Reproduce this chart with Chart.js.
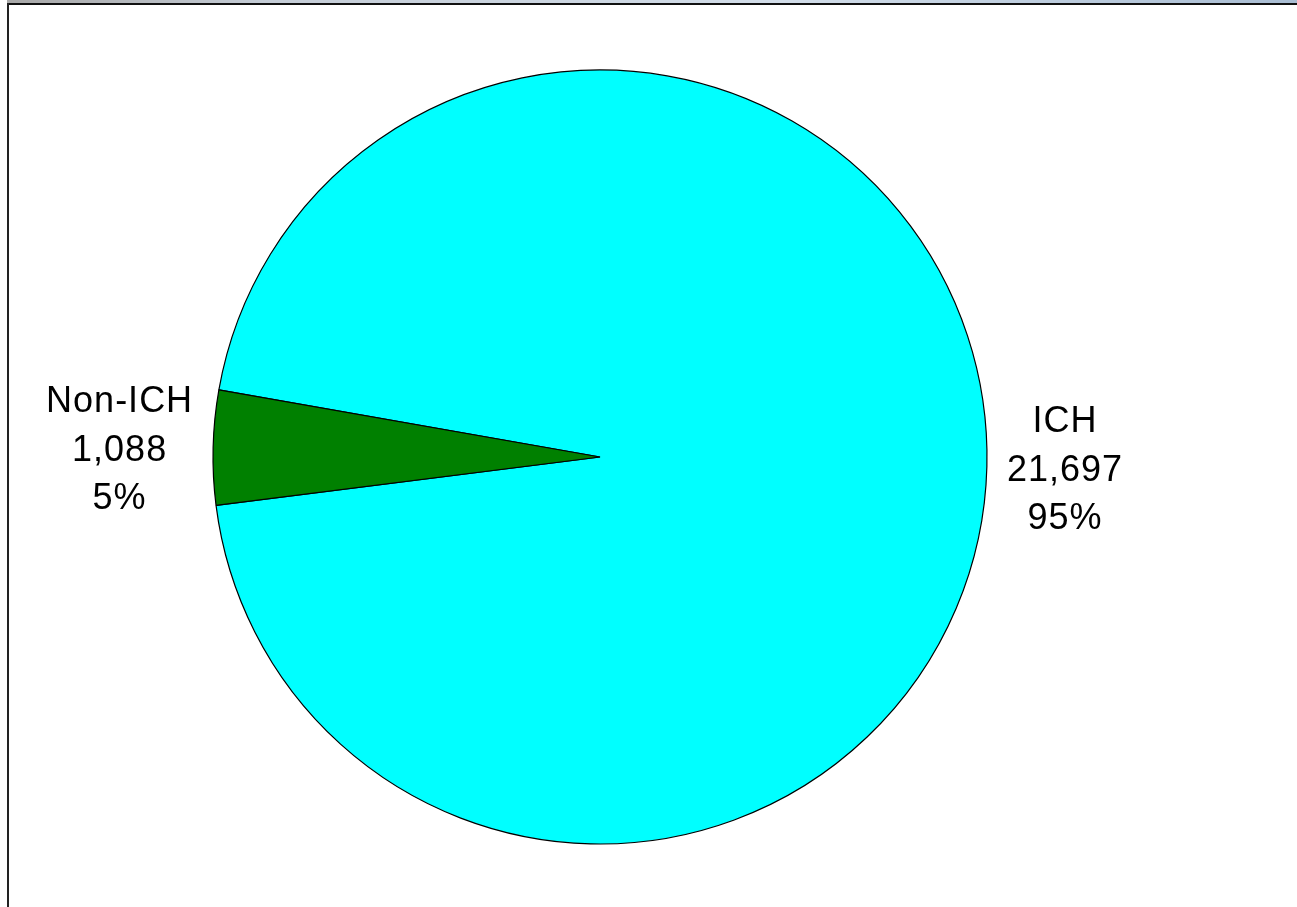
<!DOCTYPE html>
<html>
<head>
<meta charset="utf-8">
<script src="https://cdn.jsdelivr.net/npm/chart.js@4/dist/chart.umd.min.js"></script>
<style>
  html, body { margin: 0; padding: 0; background: #fff; overflow: hidden; }
  #wrap { position: absolute; left: 0; top: 0; width: 1297px; height: 907px; }
  #strip { position: absolute; left: 7px; top: 0; width: 1290px; height: 3px;
           background: linear-gradient(to right, #a8a8a8 0%, #c4ccd6 20%, #d2dde9 60%, #a9bdd3 100%); }
  #topline { position: absolute; left: 7px; top: 3px; width: 1290px; height: 2px; background: #111; }
  #leftline { position: absolute; left: 7px; top: 3px; width: 2px; height: 904px; background: #222; }
  canvas { position: absolute; left: 0; top: 0; }
</style>
</head>
<body>
<div id="wrap">
  <canvas id="c" width="1297" height="907"></canvas>
  <div id="strip"></div>
  <div id="topline"></div>
  <div id="leftline"></div>
</div>
<script>
const categories = ["ICH", "Non-ICH"];
const values = [21697, 1088];
const valueLabels = ["21,697", "1,088"];
const percentLabels = ["95%", "5%"];
const colors = ["#00FFFF", "#008000"];

const labelPlugin = {
  id: 'outsideLabels',
  afterDatasetsDraw(chart) {
    const ctx = chart.ctx;
    const meta = chart.getDatasetMeta(0);
    ctx.save();
    ctx.font = '36px "Liberation Sans", Arial, sans-serif';
    ctx.letterSpacing = '1px';
    ctx.fillStyle = '#000';
    ctx.textAlign = 'center';
    ctx.textBaseline = 'middle';
    const lineH = 48.5;
    meta.data.forEach((arc, i) => {
      const p = arc.getProps(['x', 'y', 'startAngle', 'endAngle', 'outerRadius'], true);
      const mid = (p.startAngle + p.endAngle) / 2;
      const lines = [categories[i], valueLabels[i], percentLabels[i]];
      const w = Math.max(...lines.map(t => ctx.measureText(t).width));
      const r = p.outerRadius + 20;
      const ax = p.x + Math.cos(mid) * r;
      const ay = p.y + Math.sin(mid) * r + 4;
      const cx = ax + (Math.cos(mid) >= 0 ? 1 : -1) * w / 2;
      lines.forEach((t, k) => {
        ctx.fillText(t, cx, ay + (k - 1) * lineH);
      });
    });
    ctx.restore();
  }
};

new Chart(document.getElementById('c'), {
  type: 'pie',
  data: {
    labels: categories,
    datasets: [{
      data: values,
      backgroundColor: colors,
      borderColor: '#000',
      borderWidth: 1.2
    }]
  },
  options: {
    responsive: false,
    animation: false,
    rotation: 280,
    radius: 387,
    layout: { padding: { left: 213, right: 310, top: 70, bottom: 63 } },
    plugins: { legend: { display: false }, tooltip: { enabled: false } }
  },
  plugins: [labelPlugin]
});
</script>
</body>
</html>
